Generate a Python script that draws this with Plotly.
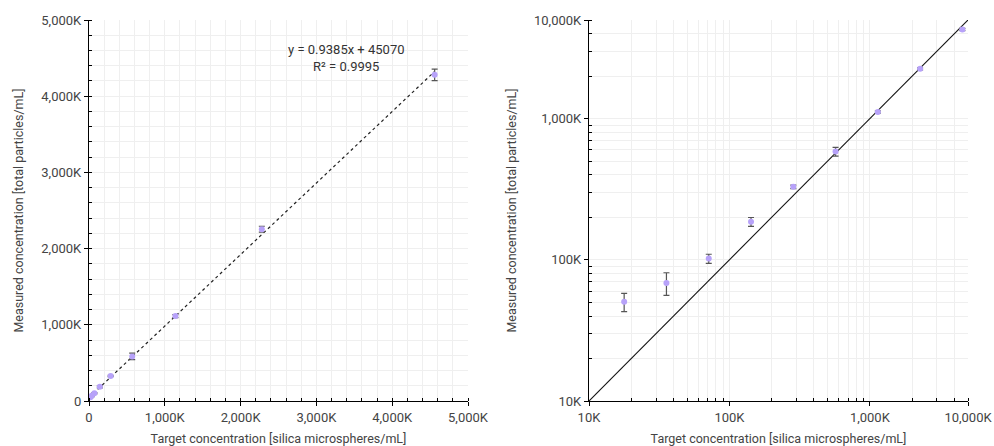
import math
import plotly.graph_objects as go

# ---- data ----
target = [17800, 35600, 71250, 142500, 285000, 570000, 1140000, 2280000, 4560000]
measured = [50400, 68500, 102000, 186000, 329000, 585000, 1114000, 2255000, 4280000]
err = [7500, 12500, 7500, 13500, 9000, 42000, 20000, 38000, 75000]

fit_slope = 0.9385
fit_intercept = 45070
fit_text = "y = 0.9385x + 45070<br>R² = 0.9995"

lin_tickvals = [0, 1000000, 2000000, 3000000, 4000000, 5000000]
lin_ticktext = ["0", "1,000K", "2,000K", "3,000K", "4,000K", "5,000K"]
log_tickvals = [1e4, 1e5, 1e6, 5e6]
log_ticktext = ["10K", "100K", "1,000K", "10,000K"]
log_range = [1e4, 5e6]

x_title = "Target concentration [silica microspheres/mL]"
y_title = "Measured concentration [total particles/mL]"

# ---- figure ----
marker_color = "#b7a2f9"
err_color = "#555555"
font_family = "Roboto, Arial, sans-serif"

fig = go.Figure()

fit_x = [0, max(target)]
fit_y = [fit_slope * v + fit_intercept for v in fit_x]
fig.add_trace(go.Scatter(x=fit_x, y=fit_y,
                         mode="lines", line=dict(color="#222", width=1.2, dash="dot"),
                         xaxis="x", yaxis="y", showlegend=False, hoverinfo="skip"))
fig.add_trace(go.Scatter(x=target, y=measured, mode="markers",
                         marker=dict(color=marker_color, size=6),
                         error_y=dict(type="data", array=err, color=err_color, thickness=1.2, width=3),
                         xaxis="x", yaxis="y", showlegend=False))

fig.add_trace(go.Scatter(x=log_range, y=log_range, mode="lines",
                         line=dict(color="#111", width=1.1),
                         xaxis="x2", yaxis="y2", showlegend=False, hoverinfo="skip"))
fig.add_trace(go.Scatter(x=target, y=measured, mode="markers",
                         marker=dict(color=marker_color, size=6),
                         error_y=dict(type="data", array=err, color=err_color, thickness=1.2, width=3),
                         xaxis="x2", yaxis="y2", showlegend=False))

grid_c = "#efefef"
tickfont = dict(family=font_family, size=13, color="#444")
titlefont = dict(family=font_family, size=12.5, color="#444")

lin_common = dict(
    tickmode="array", tickvals=lin_tickvals, ticktext=lin_ticktext,
    range=[0, 5000000], showline=True, linecolor="#000", linewidth=1.3,
    ticks="outside", ticklen=4, tickcolor="#000", tickwidth=1.2,
    showgrid=True, gridcolor=grid_c, gridwidth=1, zeroline=False,
    minor=dict(dtick=200000, ticks="inside", ticklen=3, tickcolor="#000", tickwidth=1,
               showgrid=True, gridcolor=grid_c, gridwidth=1),
    tickfont=tickfont, automargin=False,
)

minor_log_vals = []
for dec in [1e4, 1e5, 1e6]:
    for m in range(2, 10):
        v = dec * m
        if v <= log_range[1]:
            minor_log_vals.append(v)

log_common = dict(
    type="log", tickmode="array", tickvals=log_tickvals, ticktext=log_ticktext,
    range=[math.log10(log_range[0]), math.log10(log_range[1])],
    showline=True, linecolor="#000", linewidth=1.3,
    ticks="outside", ticklen=4, tickcolor="#000", tickwidth=1.2,
    showgrid=True, gridcolor=grid_c, gridwidth=1, zeroline=False,
    minor=dict(tickmode="array", tickvals=minor_log_vals, ticks="inside", ticklen=3,
               tickcolor="#000", tickwidth=1, showgrid=True, gridcolor=grid_c, gridwidth=1),
    tickfont=tickfont, automargin=False,
)

d1 = 379 / 879
d2 = 500 / 879

fig.update_layout(
    width=994, height=446,
    margin=dict(l=89, r=26, t=20, b=45),
    paper_bgcolor="white", plot_bgcolor="white",
    font=dict(family=font_family, size=12, color="#333"),
    xaxis=dict(domain=[0, d1], anchor="y",
               title=dict(text=x_title, font=titlefont, standoff=10), **lin_common),
    yaxis=dict(domain=[0, 1], anchor="x",
               title=dict(text=y_title, font=titlefont, standoff=14), **lin_common),
    xaxis2=dict(domain=[d2, 1], anchor="y2",
                title=dict(text=x_title, font=titlefont, standoff=10), **log_common),
    yaxis2=dict(domain=[0, 1], anchor="x2",
                title=dict(text=y_title, font=titlefont, standoff=14), **log_common),
    annotations=[dict(text=fit_text, x=3400000, y=4500000, xref="x", yref="y",
                      showarrow=False, align="center", xanchor="center", yanchor="middle",
                      font=dict(family=font_family, size=13, color="#333"))],
)

fig.write_html("out.html")
